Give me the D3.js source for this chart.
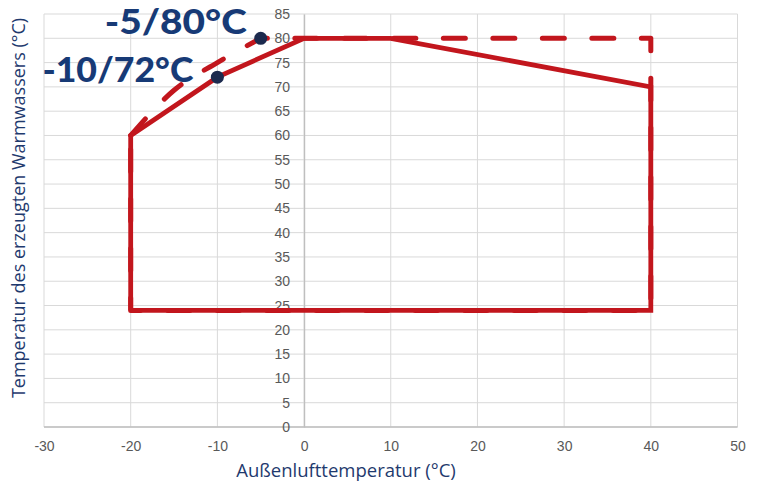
<!DOCTYPE html>
<html>
<head>
<meta charset="utf-8">
<script src="https://cdn.jsdelivr.net/npm/d3@7"></script>
<style>
  html, body { margin: 0; padding: 0; background: #fff; }
  svg { display: block; }
</style>
</head>
<body>
<svg id="chart" width="762" height="483"></svg>
<script>
// operating envelope, air temp (°C) vs water temp (°C)
var solidT = [-20, -20, -10, 0, 10, 40, 40, -20];
var solidW = [24, 60, 72, 80, 80, 70, 24, 24];

// dashed envelope: rounded part first, then straight part
var dashCurveT = [-20, -15, -10, -5];
var dashCurveW = [60, 69.3, 75, 80];
var dashLineT = [-5, 40, 40, -20, -20];
var dashLineW = [80, 80, 24, 24, 60];

var pointT = [-10, -5];
var pointW = [72, 80];
var pointLabels = ["-10/72°C", "-5/80°C"];

var xTicks = [-30, -20, -10, 0, 10, 20, 30, 40, 50];
var yTicks = [0, 5, 10, 15, 20, 25, 30, 35, 40, 45, 50, 55, 60, 65, 70, 75, 80, 85];

var svg = d3.select("#chart");
var red = "#c2161d";
var navy = "#1f3a6e";

var x = d3.scaleLinear().domain([-30, 50]).range([44, 737.5]);
var y = d3.scaleLinear().domain([0, 85]).range([427, 14]);

// gridlines
svg.append("g").selectAll("line.v")
  .data(xTicks)
  .join("line")
  .attr("x1", d => x(d)).attr("x2", d => x(d))
  .attr("y1", y(0)).attr("y2", y(85))
  .attr("stroke", "#d9d9d9").attr("stroke-width", 1);

svg.append("g").selectAll("line.h")
  .data(yTicks)
  .join("line")
  .attr("x1", x(-30)).attr("x2", x(50))
  .attr("y1", d => y(d)).attr("y2", d => y(d))
  .attr("stroke", "#d9d9d9").attr("stroke-width", 1);

// axes (plain hyphen for negatives, like the original)
var fmt = d => String(d);
var xAxis = svg.append("g")
  .attr("transform", "translate(0," + y(0) + ")")
  .call(d3.axisBottom(x).tickValues(xTicks).tickSize(0).tickPadding(14).tickFormat(fmt));
var yAxis = svg.append("g")
  .attr("transform", "translate(" + x(0) + ",0)")
  .call(d3.axisLeft(y).tickValues(yTicks).tickSize(0).tickPadding(14).tickFormat(fmt));

[xAxis, yAxis].forEach(function (a) {
  a.select(".domain").attr("stroke", "#bfbfbf").attr("stroke-width", 1.3);
  a.selectAll("text")
    .attr("fill", "#595959")
    .style("font-family", "'Liberation Sans Narrow', 'Arial Narrow', sans-serif")
    .style("font-stretch", "condensed")
    .style("font-size", "14px");
});
xAxis.select(".domain").attr("d", "M" + x(-30) + ",0H" + x(50));

// dashed envelope
var curveLine = d3.line().x((d, i) => x(dashCurveT[i])).y(d => y(d)).curve(d3.curveMonotoneX);
var straightLine = d3.line().x((d, i) => x(dashLineT[i])).y(d => y(d));
var dashD = curveLine(dashCurveW) + straightLine(dashLineW).replace(/^M/, "L");

svg.append("path")
  .attr("d", dashD)
  .attr("fill", "none")
  .attr("stroke", red)
  .attr("stroke-width", 5)
  .attr("stroke-linecap", "round")
  .attr("stroke-linejoin", "round")
  .attr("stroke-dasharray", "22,27.5");

// solid envelope
var solidLine = d3.line().x((d, i) => x(solidT[i])).y(d => y(d));
svg.append("path")
  .attr("d", solidLine(solidW))
  .attr("fill", "none")
  .attr("stroke", red)
  .attr("stroke-width", 4.8)
  .attr("stroke-linejoin", "miter");

// marked points
svg.append("g").selectAll("circle")
  .data(pointW)
  .join("circle")
  .attr("cx", (d, i) => x(pointT[i]))
  .attr("cy", d => y(d))
  .attr("r", 6.5)
  .attr("fill", "#1c2a4e");

var labelDx = [-24, -14];
var labelDy = [5, -4];
var labelLen = [151, 142];
svg.append("g").selectAll("text")
  .data(pointLabels)
  .join("text")
  .attr("x", (d, i) => x(pointT[i]) + labelDx[i])
  .attr("y", (d, i) => y(pointW[i]) + labelDy[i])
  .attr("text-anchor", "end")
  .attr("textLength", (d, i) => labelLen[i])
  .attr("lengthAdjust", "spacingAndGlyphs")
  .attr("fill", "#173a76")
  .style("font-family", "Lato, 'Open Sans', sans-serif")
  .style("font-weight", "900")
  .style("font-size", "35px")
  .text(d => d);

// axis titles
svg.append("text")
  .attr("x", 346).attr("y", 477)
  .attr("text-anchor", "middle")
  .attr("fill", navy)
  .style("font-family", "'Open Sans', sans-serif")
  .style("font-size", "18.5px")
  .text("Außenlufttemperatur (°C)");

svg.append("text")
  .attr("transform", "translate(25,208) rotate(-90)")
  .attr("text-anchor", "middle")
  .attr("fill", navy)
  .style("font-family", "'Open Sans', sans-serif")
  .style("font-size", "18px")
  .text("Temperatur des erzeugten Warmwassers (°C)");
</script>
</body>
</html>
